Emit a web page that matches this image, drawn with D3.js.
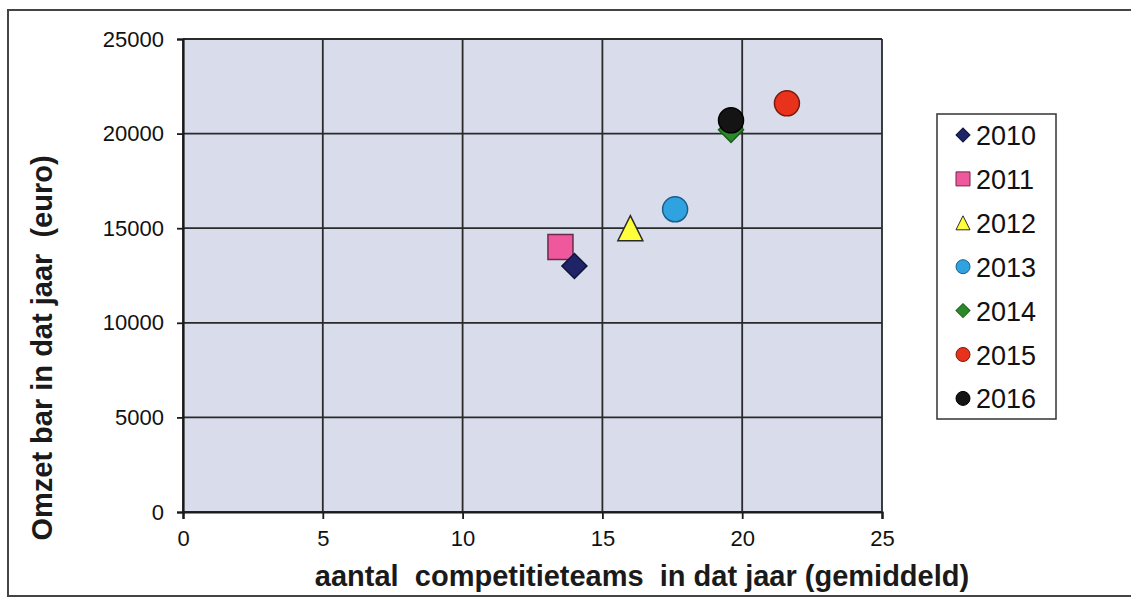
<!DOCTYPE html>
<html>
<head>
<meta charset="utf-8">
<script src="https://cdn.jsdelivr.net/npm/d3@7"></script>
<style>
  body { margin: 0; background: #fff; }
  svg { display: block; font-family: "Liberation Sans", Arial, sans-serif; }
</style>
</head>
<body>
<div id="chart"></div>
<script>
// values
const years = ["2010", "2011", "2012", "2013", "2014", "2015", "2016"];
const teams = [14, 13.5, 16, 17.6, 19.6, 21.6, 19.6];
const revenue = [13000, 14000, 15000, 16000, 20200, 21600, 20700];
const xTicks = [0, 5, 10, 15, 20, 25];
const yTicks = [0, 5000, 10000, 15000, 20000, 25000];

// marker style per year (Excel defaults)
const shapes = ["diamond", "square", "triangle", "circle", "diamond", "circle", "circle"];
const fills = ["#1e2466", "#f0589e", "#ffff3c", "#2fa2e0", "#2a8a2a", "#e8321c", "#141414"];
const strokes = ["#10143a", "#6a2a48", "#2a2a2a", "#1d5d8c", "#1c5e1c", "#7a1a10", "#000"];
const drawOrder = [1, 0, 2, 3, 4, 5, 6];

const width = 1131, height = 598;
const plot = { left: 183, top: 39, right: 882, bottom: 512 };

const svg = d3.select("#chart").append("svg")
  .attr("width", width)
  .attr("height", height);

// chart frame
svg.append("rect")
  .attr("x", 8).attr("y", 10)
  .attr("width", 1140).attr("height", 586)
  .attr("fill", "#fff")
  .attr("stroke", "#444")
  .attr("stroke-width", 2);

const x = d3.scaleLinear().domain([0, 25]).range([plot.left, plot.right]);
const y = d3.scaleLinear().domain([0, 25000]).range([plot.bottom, plot.top]);

svg.append("rect")
  .attr("x", plot.left).attr("y", plot.top)
  .attr("width", plot.right - plot.left)
  .attr("height", plot.bottom - plot.top)
  .attr("fill", "#d9dcea");

// gridlines
svg.append("g")
  .selectAll("line")
  .data(yTicks)
  .join("line")
  .attr("x1", plot.left).attr("x2", plot.right)
  .attr("y1", d => y(d)).attr("y2", d => y(d))
  .attr("stroke", "#2a2a2a")
  .attr("stroke-width", 1.8);

svg.append("g")
  .selectAll("line")
  .data(xTicks)
  .join("line")
  .attr("x1", d => x(d)).attr("x2", d => x(d))
  .attr("y1", plot.top).attr("y2", plot.bottom)
  .attr("stroke", "#2a2a2a")
  .attr("stroke-width", 1.8);

// axes
const xAxis = svg.append("g")
  .attr("transform", `translate(0, ${plot.bottom})`)
  .call(d3.axisBottom(x).tickValues(xTicks).tickSize(7).tickPadding(11));

const yAxis = svg.append("g")
  .attr("transform", `translate(${plot.left}, 0)`)
  .call(d3.axisLeft(y).tickValues(yTicks).tickFormat(d3.format("d")).tickSize(6).tickPadding(13));

[xAxis, yAxis].forEach(a => {
  a.select(".domain").attr("stroke", "#1a1a1a").attr("stroke-width", 2.2);
  a.selectAll(".tick line").attr("stroke", "#1a1a1a").attr("stroke-width", 1.8);
  a.selectAll(".tick text")
    .attr("fill", "#111")
    .style("font-family", "'Liberation Sans', Arial, sans-serif")
    .style("font-size", "22px");
});

// marker shapes
const triangle = {
  draw(ctx, size) {
    const h = Math.sqrt(size);
    ctx.moveTo(0, -h / 2);
    ctx.lineTo(h / 2, h / 2);
    ctx.lineTo(-h / 2, h / 2);
    ctx.closePath();
  }
};

function markerPath(shape, s) {
  if (shape === "circle") return d3.symbol(d3.symbolCircle, Math.PI * s * s / 4)();
  if (shape === "square") return d3.symbol(d3.symbolSquare, s * s)();
  if (shape === "diamond") return d3.symbol(d3.symbolSquare, s * s / 2)();
  return d3.symbol(triangle, s * s)();
}

function markerTransform(shape, cx, cy) {
  return `translate(${cx}, ${cy})` + (shape === "diamond" ? " rotate(45)" : "");
}

const points = drawOrder.map(i => ({
  year: years[i], x: teams[i], y: revenue[i],
  shape: shapes[i], fill: fills[i], stroke: strokes[i]
}));

svg.append("g")
  .selectAll("path")
  .data(points)
  .join("path")
  .attr("d", d => markerPath(d.shape, d.shape === "square" ? 25 : 25))
  .attr("transform", d => markerTransform(d.shape, x(d.x), y(d.y)))
  .attr("fill", d => d.fill)
  .attr("stroke", d => d.stroke)
  .attr("stroke-width", 1.5);

// legend
const legend = svg.append("g");

legend.append("rect")
  .attr("x", 937).attr("y", 114)
  .attr("width", 119).attr("height", 305)
  .attr("fill", "#fff")
  .attr("stroke", "#333")
  .attr("stroke-width", 1.5);

const rows = legend.selectAll("g.row")
  .data(years.map((yr, i) => ({ year: yr, shape: shapes[i], fill: fills[i], stroke: strokes[i] })))
  .join("g")
  .attr("class", "row")
  .attr("transform", (d, i) => `translate(0, ${135 + i * 43.9})`);

rows.append("path")
  .attr("d", d => markerPath(d.shape, 14))
  .attr("transform", d => markerTransform(d.shape, 963, 0))
  .attr("fill", d => d.fill)
  .attr("stroke", d => d.stroke)
  .attr("stroke-width", 1);

rows.append("text")
  .attr("x", 976)
  .attr("y", 10)
  .attr("fill", "#111")
  .style("font-size", "27px")
  .text(d => d.year);

// axis titles
svg.append("text")
  .attr("x", 642)
  .attr("y", 586)
  .attr("text-anchor", "middle")
  .attr("fill", "#1a1a1a")
  .style("font-size", "29px")
  .style("font-weight", "bold")
  .style("white-space", "pre")
  .text("aantal  competitieteams  in dat jaar (gemiddeld)");

svg.append("text")
  .attr("transform", "translate(52, 348) rotate(-90)")
  .attr("text-anchor", "middle")
  .attr("fill", "#1a1a1a")
  .style("font-size", "29px")
  .style("font-weight", "bold")
  .style("white-space", "pre")
  .text("Omzet bar in dat jaar  (euro)");
</script>
</body>
</html>
